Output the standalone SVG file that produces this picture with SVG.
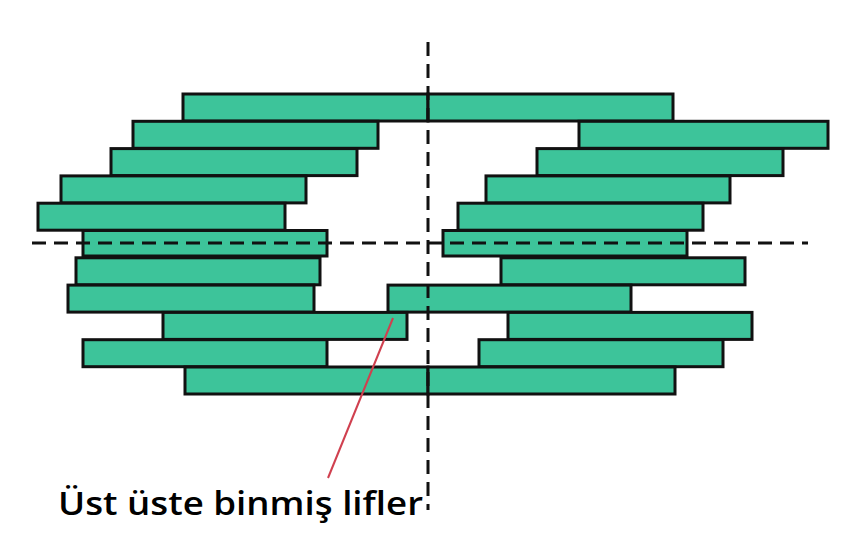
<svg xmlns="http://www.w3.org/2000/svg" width="857" height="533" viewBox="0 0 857 533">
  <style>
    .fiber { fill: #3dc49a; stroke: #111; stroke-width: 3; }
    .axis { fill: none; stroke: #111; stroke-width: 3; stroke-dasharray: 14 8; }
    .leader { fill: none; stroke: #d0404f; stroke-width: 2; }
    .label { font-family: "Open Sans", "Liberation Sans", sans-serif; font-size: 33px; font-weight: 600; fill: #000; }
  </style>
  <rect width="857" height="533" fill="#fff"/>

  <!-- fibre bundle: left and right halves of each row -->
  <g id="row1"><rect class="fiber" x="183" y="94" width="245" height="27"/><rect class="fiber" x="428" y="94" width="245" height="27"/></g>
  <g id="row2"><rect class="fiber" x="133" y="121.3" width="245" height="27"/><rect class="fiber" x="579" y="121.3" width="249" height="27"/></g>
  <g id="row3"><rect class="fiber" x="111" y="148.6" width="246" height="27"/><rect class="fiber" x="537" y="148.6" width="246" height="27"/></g>
  <g id="row4"><rect class="fiber" x="61" y="175.9" width="245" height="27"/><rect class="fiber" x="486" y="175.9" width="244" height="27"/></g>
  <g id="row5"><rect class="fiber" x="38" y="203.2" width="247" height="27"/><rect class="fiber" x="458" y="203.2" width="245" height="27"/></g>
  <g id="row6"><rect class="fiber" x="83" y="230.5" width="244" height="25.5"/><rect class="fiber" x="443" y="230.5" width="244" height="25.5"/></g>
  <g id="row7"><rect class="fiber" x="76" y="257.8" width="244" height="27"/><rect class="fiber" x="501" y="257.8" width="244" height="27"/></g>
  <g id="row8"><rect class="fiber" x="68" y="285.1" width="246" height="27"/><rect class="fiber" x="388" y="285.1" width="243" height="27"/></g>
  <g id="row9"><rect class="fiber" x="163" y="312.4" width="244" height="27"/><rect class="fiber" x="508" y="312.4" width="244" height="27"/></g>
  <g id="row10"><rect class="fiber" x="83" y="339.7" width="244" height="27"/><rect class="fiber" x="479" y="339.7" width="244" height="27"/></g>
  <g id="row11"><rect class="fiber" x="185" y="367" width="243" height="27"/><rect class="fiber" x="428" y="367" width="247" height="27"/></g>

  <!-- symmetry axes and leader -->
  <g id="connectors">
    <line class="axis" x1="428" y1="42" x2="428" y2="510" stroke-width="2.5"/>
    <line class="axis" x1="32" y1="243" x2="808" y2="243" stroke-dasharray="15 8"/>
    <line class="leader" x1="393" y1="318" x2="328" y2="478"/>
  </g>

  <g id="caption">
    <text class="label" x="58" y="515" textLength="365" lengthAdjust="spacingAndGlyphs">Üst üste binmiş lifler</text>
  </g>
</svg>
